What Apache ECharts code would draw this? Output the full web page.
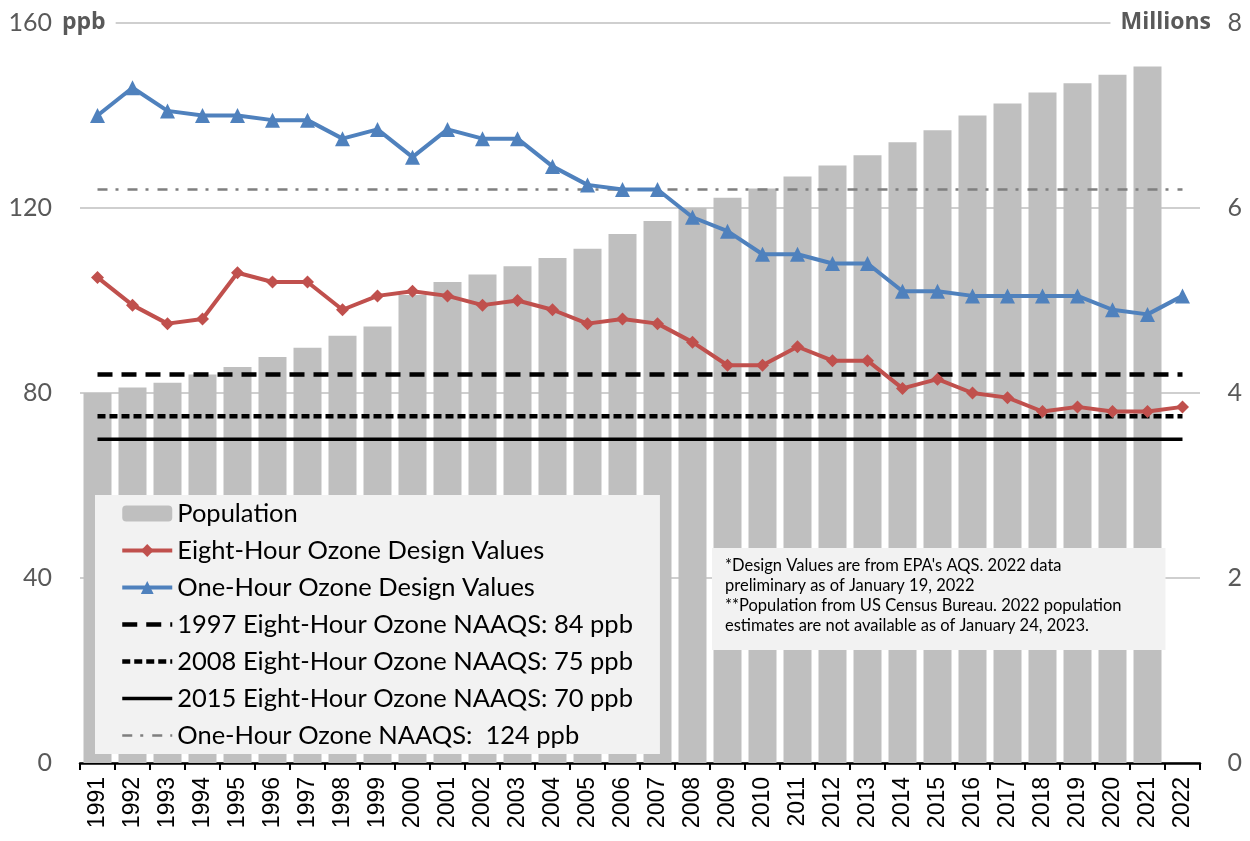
<!DOCTYPE html>
<html>
<head>
<meta charset="utf-8">
<script src="https://cdn.jsdelivr.net/npm/echarts@6/dist/echarts.min.js"></script>
<style>
  html, body { margin: 0; padding: 0; background: #fff; }
  #chart { width: 1250px; height: 841px; }
</style>
</head>
<body>
<div id="chart"></div>
<script>
// years on the x axis
var years = ['1991', '1992', '1993', '1994', '1995', '1996', '1997', '1998', '1999', '2000',
  '2001', '2002', '2003', '2004', '2005', '2006', '2007', '2008', '2009', '2010',
  '2011', '2012', '2013', '2014', '2015', '2016', '2017', '2018', '2019', '2020', '2021', '2022'];

// population, millions (no 2022 estimate)
var population = [4.00, 4.06, 4.11, 4.20, 4.28, 4.39, 4.49, 4.62, 4.72, 5.06,
  5.20, 5.28, 5.37, 5.46, 5.56, 5.72, 5.86, 6.00, 6.11, 6.21,
  6.34, 6.46, 6.57, 6.71, 6.84, 7.00, 7.13, 7.25, 7.35, 7.44, 7.53, null];

// design values, ppb
var eightHour = [105, 99, 95, 96, 106, 104, 104, 98, 101, 102,
  101, 99, 100, 98, 95, 96, 95, 91, 86, 86,
  90, 87, 87, 81, 83, 80, 79, 76, 77, 76, 76, 77];
var oneHour = [140, 146, 141, 140, 140, 139, 139, 135, 137, 131,
  137, 135, 135, 129, 125, 124, 124, 118, 115, 110,
  110, 108, 108, 102, 102, 101, 101, 101, 101, 98, 97, 101];

// standards, ppb
var naaqs1997 = 84;
var naaqs2008 = 75;
var naaqs2015 = 70;
var naaqsOneHour = 124;

var leftTicks = [0, 40, 80, 120, 160];
var rightTicks = [0, 2, 4, 6, 8];

function flat(v) {
  return years.map(function () { return v; });
}

var chart = echarts.init(document.getElementById('chart'));

// legend entries for the plain standard lines: hide the default circle
var noMark = { opacity: 0 };

chart.setOption({
  backgroundColor: '#ffffff',
  animation: false,
  textStyle: { fontFamily: 'Lato' },
  grid: { left: 80, right: 50, top: 23, bottom: 78 },
  title: {
    left: 712, top: 548,
    backgroundColor: '#f2f2f2',
    padding: [8, 44, 14, 13],
    text: '*Design Values are from EPA\'s AQS. 2022 data\npreliminary as of January 19, 2022\n**Population from US Census Bureau. 2022 population\nestimates are not available as of January 24, 2023.',
    textStyle: { fontSize: 16.5, fontWeight: 'normal', color: '#000', lineHeight: 20, fontFamily: 'Lato' }
  },
  legend: {
    orient: 'vertical',
    left: 95, top: 495,
    backgroundColor: '#f2f2f2',
    padding: [5, 27, 5, 25],
    itemWidth: 50, itemHeight: 16, itemGap: 10,
    lineStyle: { width: 'inherit' },
    textStyle: { fontSize: 25.5, color: '#000', lineHeight: 27 },
    data: [
      { name: 'Population' },
      { name: 'Eight-Hour Ozone Design Values' },
      { name: 'One-Hour Ozone Design Values' },
      { name: '1997 Eight-Hour Ozone NAAQS: 84 ppb', itemStyle: noMark },
      { name: '2008 Eight-Hour Ozone NAAQS: 75 ppb', itemStyle: noMark },
      { name: '2015 Eight-Hour Ozone NAAQS: 70 ppb', itemStyle: noMark },
      { name: 'One-Hour Ozone NAAQS:  124 ppb', itemStyle: noMark }
    ]
  },
  xAxis: {
    type: 'category',
    data: years,
    axisLine: { lineStyle: { color: '#000', width: 2.5 } },
    axisTick: { show: true, length: 7, lineStyle: { color: '#000', width: 2 } },
    axisLabel: { rotate: 90, fontSize: 23, color: '#000', margin: 14, fontFamily: 'Liberation Sans' }
  },
  yAxis: [
    {
      type: 'value', min: leftTicks[0], max: leftTicks[leftTicks.length - 1], interval: 40,
      axisLine: { show: false }, axisTick: { show: false },
      splitLine: { lineStyle: { color: '#bfbfbf', width: 1.5 } },
      axisLabel: { fontSize: 25, color: '#595959', margin: 28, fontFamily: 'Lato' }
    },
    {
      type: 'value', min: rightTicks[0], max: rightTicks[rightTicks.length - 1], interval: 2,
      axisLine: { show: false }, axisTick: { show: false },
      splitLine: { show: false },
      axisLabel: { fontSize: 25, color: '#595959', margin: 42, align: 'right', fontFamily: 'Lato' }
    }
  ],
  graphic: [
    {
      type: 'text', left: 58, top: 9, z: 10,
      style: { text: 'ppb', fontSize: 23, fontWeight: 'bold', fill: '#595959', fontFamily: 'Open Sans',
        backgroundColor: '#fff', padding: [2, 10, 2, 4] }
    },
    {
      type: 'text', right: 33, top: 9, z: 10,
      style: { text: 'Millions', fontSize: 23, fontWeight: 'bold', fill: '#595959', fontFamily: 'Open Sans',
        backgroundColor: '#fff', padding: [2, 6, 2, 10] }
    }
  ],
  series: [
    {
      name: 'Population', type: 'bar', yAxisIndex: 1,
      barCategoryGap: '20%',
      itemStyle: { color: '#bfbfbf' },
      data: population, z: 1
    },
    {
      name: '1997 Eight-Hour Ozone NAAQS: 84 ppb', type: 'line', symbol: 'none',
      lineStyle: { color: '#000', width: 4.5, type: [15, 9] },
      itemStyle: { color: '#000' },
      data: flat(naaqs1997), z: 3
    },
    {
      name: '2008 Eight-Hour Ozone NAAQS: 75 ppb', type: 'line', symbol: 'none',
      lineStyle: { color: '#000', width: 4.5, type: [8, 4] },
      itemStyle: { color: '#000' },
      data: flat(naaqs2008), z: 3
    },
    {
      name: '2015 Eight-Hour Ozone NAAQS: 70 ppb', type: 'line', symbol: 'none',
      lineStyle: { color: '#000', width: 3.5 },
      itemStyle: { color: '#000' },
      data: flat(naaqs2015), z: 3
    },
    {
      name: 'One-Hour Ozone NAAQS:  124 ppb', type: 'line', symbol: 'none',
      lineStyle: { color: '#7f7f7f', width: 2.5, type: [10, 8, 3, 9] },
      itemStyle: { color: '#7f7f7f' },
      data: flat(naaqsOneHour), z: 3
    },
    {
      name: 'Eight-Hour Ozone Design Values', type: 'line',
      symbol: 'diamond', symbolSize: 13,
      lineStyle: { color: '#c0504d', width: 4 },
      itemStyle: { color: '#c0504d' },
      data: eightHour, z: 4
    },
    {
      name: 'One-Hour Ozone Design Values', type: 'line',
      symbol: 'triangle', symbolSize: 15,
      lineStyle: { color: '#4f81bd', width: 4 },
      itemStyle: { color: '#4f81bd' },
      data: oneHour, z: 4
    }
  ]
});
</script>
</body>
</html>
